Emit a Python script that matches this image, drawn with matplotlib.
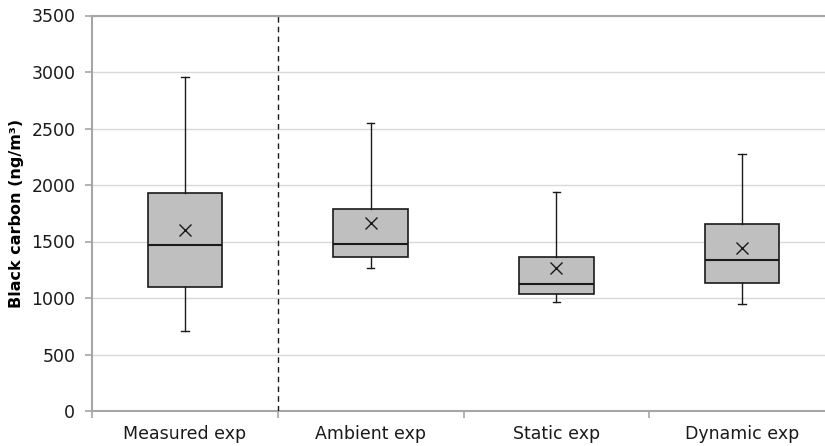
import matplotlib
matplotlib.use("Agg")
import matplotlib.pyplot as plt

# values (ng/m3)
labels = ["Measured exp", "Ambient exp", "Static exp", "Dynamic exp"]
whislo = [710, 1267, 965, 945]
q1 = [1095, 1361, 1034, 1136]
med = [1465, 1479, 1128, 1340]
q3 = [1925, 1789, 1361, 1659]
whishi = [2955, 2548, 1937, 2270]
mean = [1600, 1668, 1264, 1441]

plt.rcParams['font.family'] = ['DejaVu Sans']

stats = []
for i in range(len(labels)):
    stats.append(dict(label=labels[i], whislo=whislo[i], q1=q1[i], med=med[i],
                      q3=q3[i], whishi=whishi[i], mean=mean[i], fliers=[]))

fig = plt.figure(figsize=(8.25, 4.46), dpi=100)
W, H = 825, 446
left, right, top, bottom = 92, 835, 15.5, 411
ax = fig.add_axes([left / W, 1 - bottom / H, (right - left) / W, (bottom - top) / H])

ax.bxp(stats, positions=range(len(labels)), widths=0.4, patch_artist=True,
       showmeans=True, showfliers=False, capwidths=0.04,
       boxprops=dict(facecolor="#bfbfbf", edgecolor="#1a1a1a", linewidth=1.2),
       medianprops=dict(color="#1a1a1a", linewidth=1.5),
       whiskerprops=dict(color="#1a1a1a", linewidth=1.0),
       capprops=dict(color="#1a1a1a", linewidth=1.0),
       meanprops=dict(marker="x", markeredgecolor="#1a1a1a", markersize=8,
                      markeredgewidth=1.0))

ax.axvline(0.5, color="#1a1a1a", linestyle=(0, (4, 3)), linewidth=1.0, zorder=3)

ax.set_xlim(-0.5, 3.5)
ax.set_ylim(0, 3500)
ax.set_yticks(range(0, 3501, 500))
ax.yaxis.grid(True, color="#d9d9d9", linewidth=1.0)
ax.set_axisbelow(True)

ax.set_xticks(range(len(labels)))
ax.set_xticklabels(labels, fontsize=12.5, color="#1a1a1a")
ax.set_xticks([-0.5, 0.5, 1.5, 2.5, 3.5], minor=True)
ax.tick_params(axis="x", which="major", length=0, pad=10)
ax.tick_params(axis="x", which="minor", length=5, color="#a6a6a6", width=1.2)
ax.tick_params(axis="y", length=5, color="#a6a6a6", width=1.2, labelsize=12.5,
               labelcolor="#1a1a1a", pad=7)

for s in ["left", "bottom", "top"]:
    ax.spines[s].set_color("#a6a6a6")
    ax.spines[s].set_linewidth(1.5)
ax.spines["right"].set_visible(False)

ax.set_ylabel("Black carbon (ng/m³)", fontsize=11.5, fontweight="bold")
ax.yaxis.set_label_coords(-0.092, 0.5)

fig.savefig("out.png", dpi=100)
